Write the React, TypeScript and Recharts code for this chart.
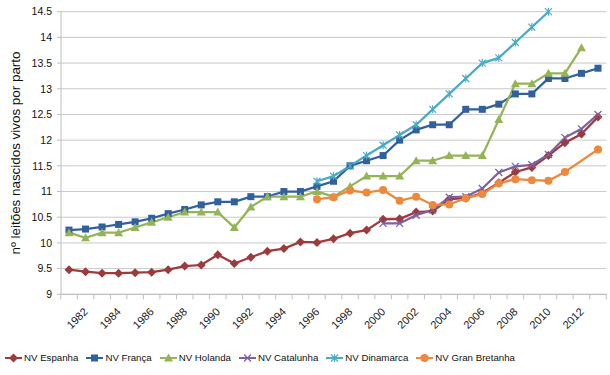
import React from 'react';
import { LineChart, Line, XAxis, YAxis, CartesianGrid } from 'recharts';

const years = [
  1981, 1982, 1983, 1984, 1985, 1986, 1987, 1988, 1989, 1990, 1991,
  1992, 1993, 1994, 1995, 1996, 1997, 1998, 1999, 2000, 2001, 2002,
  2003, 2004, 2005, 2006, 2007, 2008, 2009, 2010, 2011, 2012, 2013,
];

const espanha = [
  9.48, 9.44, 9.41, 9.41, 9.42, 9.43, 9.48, 9.55, 9.57, 9.77, 9.6,
  9.72, 9.84, 9.89, 10.02, 10.01, 10.08, 10.19, 10.25, 10.46, 10.47, 10.6,
  10.62, 10.85, 10.87, 10.97, 11.17, 11.38, 11.47, 11.7, 11.95, 12.12, 12.45,
];
const franca = [
  10.25, 10.27, 10.31, 10.36, 10.41, 10.48, 10.57, 10.65, 10.74, 10.8, 10.8,
  10.9, 10.9, 11.0, 11.0, 11.1, 11.2, 11.5, 11.6, 11.7, 12.0, 12.2,
  12.3, 12.3, 12.6, 12.6, 12.7, 12.9, 12.9, 13.2, 13.2, 13.3, 13.4,
];
const holanda = [
  10.2, 10.1, 10.2, 10.2, 10.3, 10.4, 10.5, 10.6, 10.6, 10.6, 10.3,
  10.7, 10.9, 10.9, 10.9, 11.0, 10.9, 11.1, 11.3, 11.3, 11.3, 11.6,
  11.6, 11.7, 11.7, 11.7, 12.4, 13.1, 13.1, 13.3, 13.3, 13.8, null,
];
const catalunha = [
  null, null, null, null, null, null, null, null, null, null, null,
  null, null, null, null, null, null, null, null, 10.38, 10.38, 10.54,
  10.64, 10.89, 10.9, 11.06, 11.37, 11.49, 11.52, 11.72, 12.05, 12.22, 12.5,
];
const dinamarca = [
  null, null, null, null, null, null, null, null, null, null, null,
  null, null, null, null, 11.2, 11.3, 11.5, 11.7, 11.9, 12.1, 12.3,
  12.6, 12.9, 13.2, 13.5, 13.6, 13.9, 14.2, 14.5, null, null, null,
];
const granBretanha = [
  null, null, null, null, null, null, null, null, null, null, null,
  null, null, null, null, 10.85, 10.89, 11.02, 10.98, 11.03, 10.82, 10.9,
  10.74, 10.75, 10.87, 10.95, 11.16, 11.24, 11.22, 11.21, 11.38, null, 11.82,
];

const yTicks = [9, 9.5, 10, 10.5, 11, 11.5, 12, 12.5, 13, 13.5, 14, 14.5];
const yLabel = 'nº leitões nascidos vivos por parto';

const series = [
  { key: 'espanha', name: 'NV Espanha', color: '#9d3a3c', shape: 'diamond' },
  { key: 'franca', name: 'NV França', color: '#31609f', shape: 'square' },
  { key: 'holanda', name: 'NV Holanda', color: '#94b457', shape: 'triangle' },
  { key: 'catalunha', name: 'NV Catalunha', color: '#7d62a0', shape: 'x' },
  { key: 'dinamarca', name: 'NV Dinamarca', color: '#4aabc5', shape: 'star' },
  { key: 'granBretanha', name: 'NV Gran Bretanha', color: '#ed883c', shape: 'circle' },
];

const data = years.map((year, i) => ({
  year,
  espanha: espanha[i],
  franca: franca[i],
  holanda: holanda[i],
  catalunha: catalunha[i],
  dinamarca: dinamarca[i],
  granBretanha: granBretanha[i],
}));

const W = 610;
const H = 375;
const PLOT_L = 61;
const PLOT_R = 606.5;
const PLOT_T = 11.7;
const PLOT_B = 294.3;
const PAD_L = 8;
const PAD_R = 8.5;
const X_AXIS_H = 45;
const HALF_STEP = (PLOT_R - PLOT_L - PAD_L - PAD_R) / (years.length - 1) / 2;
const AXIS_GRAY = '#bfbfbf';
const FONT = '"Liberation Sans", Arial, sans-serif';

function Marker({ shape, cx, cy, color }: { shape: string; cx: number; cy: number; color: string }) {
  switch (shape) {
    case 'diamond':
      return <path d={`M${cx},${cy - 4.5}L${cx + 4.5},${cy}L${cx},${cy + 4.5}L${cx - 4.5},${cy}Z`} fill={color} />;
    case 'square':
      return <rect x={cx - 3.5} y={cy - 3.5} width={7} height={7} fill={color} />;
    case 'triangle':
      return <path d={`M${cx},${cy - 4.5}L${cx + 4.5},${cy + 3.5}L${cx - 4.5},${cy + 3.5}Z`} fill={color} />;
    case 'x':
      return (
        <path d={`M${cx - 3.5},${cy - 3.5}L${cx + 3.5},${cy + 3.5}M${cx - 3.5},${cy + 3.5}L${cx + 3.5},${cy - 3.5}`} stroke={color} strokeWidth={1.3} />
      );
    case 'star':
      return (
        <path
          d={`M${cx - 3.5},${cy - 3.5}L${cx + 3.5},${cy + 3.5}M${cx - 3.5},${cy + 3.5}L${cx + 3.5},${cy - 3.5}M${cx},${cy - 4}L${cx},${cy + 4}`}
          stroke={color}
          strokeWidth={1.2}
        />
      );
    default:
      return <circle cx={cx} cy={cy} r={4} fill={color} />;
  }
}

const makeDot = (shape: string, color: string) => (p: any) => {
  if (p.value == null || p.cy == null || p.cx == null) return <g key={`d-${p.index}`} />;
  return (
    <g key={`d-${p.index}`}>
      <Marker shape={shape} cx={p.cx} cy={p.cy} color={color} />
    </g>
  );
};

function YearTick(props: any) {
  const { x, y, payload, index } = props;
  const year = payload.value as number;
  const isLast = index === years.length - 1;
  const ax = x + 3;
  const ay = y + 18;
  return (
    <g>
      <line x1={x - HALF_STEP} x2={x - HALF_STEP} y1={y} y2={y + 5} stroke={AXIS_GRAY} />
      {isLast && <line x1={x + HALF_STEP} x2={x + HALF_STEP} y1={y} y2={y + 5} stroke={AXIS_GRAY} />}
      {year % 2 === 0 && (
        <text x={ax} y={ay} transform={`rotate(-45, ${ax}, ${ay})`} textAnchor="end" fontSize={11} fill="#1a1a1a" fontFamily={FONT}>
          {year}
        </text>
      )}
    </g>
  );
}

function YTitle(props: any) {
  const vb = props.viewBox || {};
  const cy = (vb.y ?? PLOT_T) + (vb.height ?? PLOT_B - PLOT_T) / 2;
  const cx = 16;
  return (
    <text
      x={cx}
      y={cy}
      transform={`rotate(-90, ${cx}, ${cy})`}
      textAnchor="middle"
      dominantBaseline="central"
      fontSize={12}
      textLength={203}
      lengthAdjust="spacingAndGlyphs"
      fill="#111"
      fontFamily={FONT}
    >
      {yLabel}
    </text>
  );
}

function LegendIcon({ shape, color }: { shape: string; color: string }) {
  return (
    <svg width={17} height={10} style={{ display: 'block' }}>
      <line x1={0} x2={17} y1={5} y2={5} stroke={color} strokeWidth={2} />
      <Marker shape={shape} cx={8.5} cy={5} color={color} />
    </svg>
  );
}

export default function App() {
  return (
    <div style={{ position: 'absolute', left: 0, top: 0, width: W, height: H, background: '#fff' }}>
      <LineChart
        width={W}
        height={H}
        data={data}
        margin={{ top: PLOT_T, right: W - PLOT_R, left: 0, bottom: H - PLOT_B - X_AXIS_H }}
      >
        <CartesianGrid vertical={false} stroke="#c9c9c9" />
        <XAxis
          dataKey="year"
          interval={0}
          height={X_AXIS_H}
          padding={{ left: PAD_L, right: PAD_R }}
          tickSize={0}
          tickMargin={0}
          tickLine={false}
          axisLine={{ stroke: AXIS_GRAY }}
          tick={<YearTick />}
        />
        <YAxis
          width={PLOT_L}
          domain={[9, 14.5]}
          ticks={yTicks}
          interval={0}
          tickSize={4}
          tickMargin={5}
          tickLine={{ stroke: AXIS_GRAY }}
          axisLine={{ stroke: AXIS_GRAY }}
          tick={{ fontSize: 10.5, fill: '#111', fontFamily: FONT }}
          tickFormatter={(v: number) => String(v)}
          label={<YTitle />}
        />
        {series.map((s) => (
          <Line
            key={s.key}
            type="linear"
            dataKey={s.key}
            name={s.name}
            stroke={s.color}
            strokeWidth={2.25}
            dot={makeDot(s.shape, s.color)}
            activeDot={false}
            connectNulls
            isAnimationActive={false}
          />
        ))}
      </LineChart>
      <div
        style={{
          position: 'absolute',
          left: 5,
          top: 352,
          display: 'flex',
          alignItems: 'center',
          gap: 8,
          fontFamily: FONT,
          fontSize: 9.7,
          color: '#111',
          whiteSpace: 'nowrap',
        }}
      >
        {series.map((s) => (
          <div key={s.key} style={{ display: 'flex', alignItems: 'center', gap: 2 }}>
            <LegendIcon shape={s.shape} color={s.color} />
            <span>{s.name}</span>
          </div>
        ))}
      </div>
    </div>
  );
}
